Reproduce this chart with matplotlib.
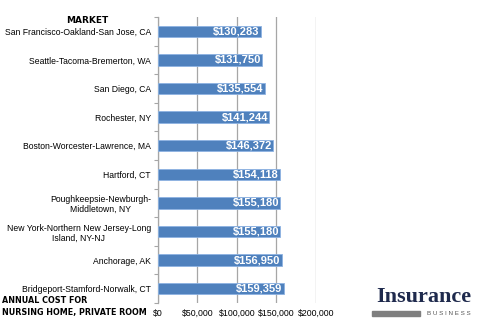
import matplotlib
matplotlib.use("Agg")
import matplotlib.pyplot as plt

markets = [
    "San Francisco-Oakland-San Jose, CA",
    "Seattle-Tacoma-Bremerton, WA",
    "San Diego, CA",
    "Rochester, NY",
    "Boston-Worcester-Lawrence, MA",
    "Hartford, CT",
    "Poughkeepsie-Newburgh-\nMiddletown, NY",
    "New York-Northern New Jersey-Long\nIsland, NY-NJ",
    "Anchorage, AK",
    "Bridgeport-Stamford-Norwalk, CT",
]
costs = [130283, 131750, 135554, 141244, 146372, 154118, 155180, 155180, 156950, 159359]
x_ticks = [0, 50000, 100000, 150000, 200000]

bar_color = "#4F81BD"
grid_color = "#A6A6A6"

fig = plt.figure(figsize=(4.8, 3.2), dpi=100)
ax = fig.add_axes([0.329, 0.053, 0.329, 0.894])

y = list(range(len(markets)))
ax.barh(y, costs, height=0.4, color=bar_color, edgecolor="#8DB3E2", linewidth=0.6, zorder=3)

for yi, c in zip(y, costs):
    ax.text(c - 1500, yi, f"${c:,}", ha="right", va="center", color="white",
            fontsize=8, fontweight="bold", family="Liberation Sans", zorder=4)

ax.set_xlim(0, 200000)
ax.set_ylim(len(markets) - 0.5, -0.5)
ax.set_xticks(x_ticks)
ax.set_xticklabels([f"${v:,}" for v in x_ticks], fontsize=6.3, family="Liberation Sans")
ax.tick_params(axis="x", length=0, pad=4)

ax.set_yticks(y)
ax.set_yticklabels(markets, fontsize=6.2, family="Liberation Sans", multialignment="center")
ax.tick_params(axis="y", which="major", length=0, pad=5)
ax.set_yticks([i - 0.5 for i in range(len(markets) + 1)], minor=True)
ax.tick_params(axis="y", which="minor", length=3, color=grid_color, width=0.8)

ax.grid(axis="x", color=grid_color, linewidth=0.9, zorder=0)
for s in ["top", "right", "bottom"]:
    ax.spines[s].set_visible(False)
ax.spines["left"].set_color(grid_color)
ax.spines["left"].set_linewidth(0.9)

fig.text(0.181, 0.936, "MARKET", ha="center", va="center", fontsize=6.5,
         fontweight="bold", family="DejaVu Sans")
fig.text(0.005, 0.062, "ANNUAL COST FOR", ha="left", va="center", fontsize=5.8,
         fontweight="bold", family="DejaVu Sans")
fig.text(0.005, 0.022, "NURSING HOME, PRIVATE ROOM", ha="left", va="center", fontsize=5.8,
         fontweight="bold", family="DejaVu Sans")

# logo
fig.text(0.882, 0.04, "Insurance", ha="center", va="bottom", fontsize=16,
         fontweight="bold", family="Liberation Serif", color="#1F2A4D")
fig.patches.append(plt.Rectangle((0.775, 0.014), 0.1, 0.014, transform=fig.transFigure,
                                 color="#7F7F7F", figure=fig))
fig.text(0.935, 0.021, "B U S I N E S S", ha="center", va="center", fontsize=4.5,
         family="Liberation Sans", color="#555555")

fig.savefig("out.png", dpi=100)
